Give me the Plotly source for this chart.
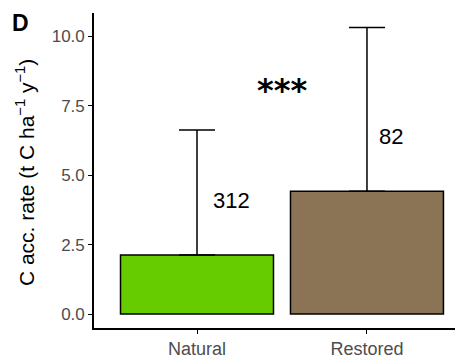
import plotly.graph_objects as go

categories = ["Natural", "Restored"]
means = [2.13, 4.42]
upper = [6.62, 10.31]
n_labels = ["312", "82"]
colors = ["#66CC00", "#8B7355"]
y_ticks = [0.0, 2.5, 5.0, 7.5, 10.0]

err_plus = [u - m for u, m in zip(upper, means)]

font_family = "Liberation Sans, Arial, Helvetica, sans-serif"

fig = go.Figure()
fig.add_trace(go.Bar(
    x=categories, y=means,
    marker=dict(color=colors, line=dict(color="black", width=1.5)),
    width=0.9,
    error_y=dict(type="data", symmetric=False, array=err_plus,
                 arrayminus=[0, 0], color="black", thickness=1.5, width=18),
))

# n labels
fig.add_annotation(x=0.205, y=4.1, xref="x", yref="y", text=n_labels[0],
                   showarrow=False, font=dict(size=22, color="black", family=font_family))
fig.add_annotation(x=1.14, y=6.4, xref="x", yref="y", text=n_labels[1],
                   showarrow=False, font=dict(size=22, color="black", family=font_family))
fig.add_annotation(x=0.5, y=8.05, xref="x", yref="y", text="<b>***</b>",
                   showarrow=False, font=dict(size=32, color="black", family="DejaVu Sans"))
# panel letter
fig.add_annotation(x=-0.198, y=0.967, xref="paper", yref="paper", text="<b>D</b>",
                   showarrow=False, xanchor="center", yanchor="middle",
                   font=dict(size=23, color="black", family=font_family))
# y axis title
fig.add_annotation(x=-0.187, y=0.495, xref="paper", yref="paper",
                   text="C acc. rate (t C ha<sup>−1</sup> y<sup>−1</sup>)",
                   textangle=-90, showarrow=False, xanchor="center", yanchor="middle",
                   font=dict(size=21, color="black", family=font_family))

fig.update_layout(
    width=455, height=352,
    margin=dict(l=86, r=0, t=5, b=32, autoexpand=False),
    paper_bgcolor="white", plot_bgcolor="white",
    showlegend=False,
    font=dict(family=font_family),
    xaxis=dict(range=[-0.606, 1.565], showline=True, linecolor="black", linewidth=1.6,
               ticks="outside", ticklen=4, tickwidth=1.3, tickcolor="black",
               tickfont=dict(size=18, color="#4d4d4d"), showgrid=False, zeroline=False),
    yaxis=dict(range=[-0.5, 10.83], showline=True, linecolor="black", linewidth=1.6,
               ticks="outside", ticklen=4, tickwidth=1.3, tickcolor="black",
               tickvals=y_ticks, tickformat=".1f",
               tickfont=dict(size=17, color="#4d4d4d"), showgrid=False, zeroline=False),
)

fig.write_html("out.html")
